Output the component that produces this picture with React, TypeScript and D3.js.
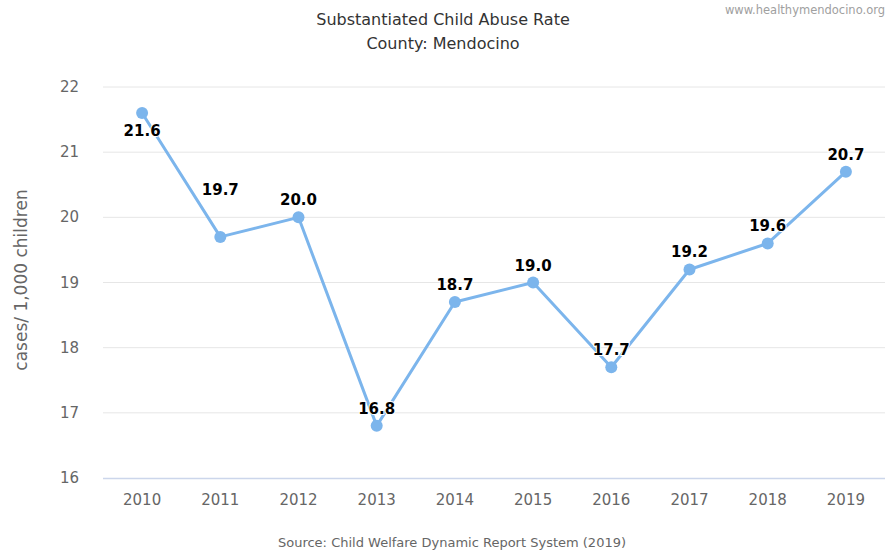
import React from "react";
import * as d3 from "d3";

const years = ["2010", "2011", "2012", "2013", "2014", "2015", "2016", "2017", "2018", "2019"];
const rates = [21.6, 19.7, 20.0, 16.8, 18.7, 19.0, 17.7, 19.2, 19.6, 20.7];
const yTicks = [16, 17, 18, 19, 20, 21, 22];

const W = 887;
const H = 552;
const FONT = "DejaVu Sans, Verdana, sans-serif";

export default function App() {
  const left = 103;
  const right = 885;
  const top = 87;
  const bottom = 478;

  const x = d3.scaleBand<string>().domain(years).range([left, right]);
  const y = d3.scaleLinear().domain([16, 22]).range([bottom, top]);
  const cx = (d: string) => (x(d) as number) + x.bandwidth() / 2;

  const line = d3
    .line<number>()
    .x((_, i) => cx(years[i]))
    .y((d) => y(d));

  const labelDy = (i: number) => {
    if (i === 0) return 23;
    if (i === 1) return -42;
    return -12;
  };

  return (
    <svg
      width={W}
      height={H}
      style={{ position: "absolute", left: 0, top: 0, background: "#fff" }}
      fontFamily={FONT}
    >
      <text x={443} y={25} textAnchor="middle" fontSize={16} fill="#333">
        Substantiated Child Abuse Rate
      </text>
      <text x={443} y={49} textAnchor="middle" fontSize={16} fill="#333">
        County: Mendocino
      </text>
      <text x={885} y={14} textAnchor="end" fontSize={11.5} fill="#a0a0a0">
        www.healthymendocino.org
      </text>

      {yTicks.map((t) => (
        <g key={t}>
          {t !== 16 && (
            <line x1={left} x2={right} y1={y(t)} y2={y(t)} stroke="#e6e6e6" strokeWidth={1} />
          )}
          <text x={79} y={y(t) + 5} textAnchor="end" fontSize={15} fill="#666">
            {t}
          </text>
        </g>
      ))}
      <line x1={left} x2={right} y1={bottom + 0.5} y2={bottom + 0.5} stroke="#ccd6eb" strokeWidth={1.5} />

      {years.map((yr) => (
        <text key={yr} x={cx(yr)} y={505} textAnchor="middle" fontSize={15} fill="#666">
          {yr}
        </text>
      ))}

      <text
        transform={`translate(27, 280) rotate(-90)`}
        textAnchor="middle"
        fontSize={17}
        fill="#666"
      >
        cases/ 1,000 children
      </text>

      <path d={line(rates) || ""} fill="none" stroke="#7cb5ec" strokeWidth={3} strokeLinejoin="round" />
      {rates.map((v, i) => (
        <circle key={i} cx={cx(years[i])} cy={y(v)} r={6} fill="#7cb5ec" />
      ))}
      {rates.map((v, i) => (
        <text
          key={"l" + i}
          x={cx(years[i])}
          y={y(v) + labelDy(i)}
          textAnchor="middle"
          fontSize={15}
          fontWeight="bold"
          fill="#000"
          stroke="#fff"
          strokeWidth={2}
          paintOrder="stroke"
        >
          {v.toFixed(1)}
        </text>
      ))}

      <text x={452} y={547} textAnchor="middle" fontSize={13} fill="#666">
        Source: Child Welfare Dynamic Report System (2019)
      </text>
    </svg>
  );
}
